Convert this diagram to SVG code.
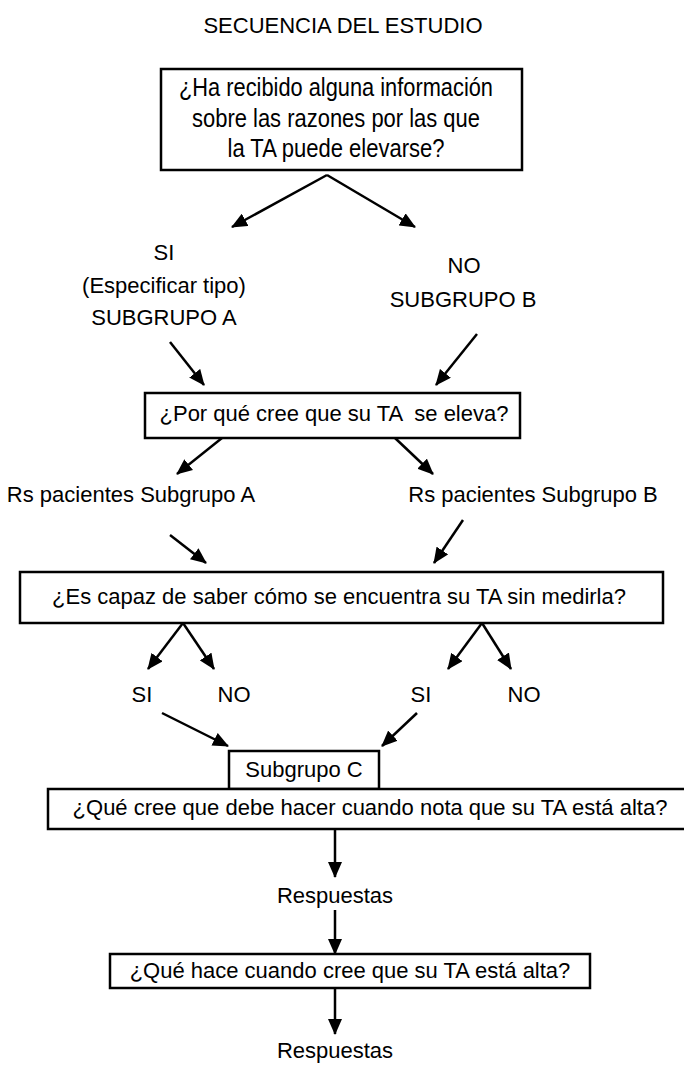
<svg xmlns="http://www.w3.org/2000/svg" width="684" height="1070" viewBox="0 0 684 1070">
  <style>
    .t { font-family: "Liberation Sans", Arial, sans-serif; font-size: 22px; fill: #000; text-anchor: middle; }
    .big { font-size: 25px; }
    .box { fill: #fff; stroke: #000; stroke-width: 2.5; }
    .c { stroke: #000; stroke-width: 2.5; fill: none; marker-end: url(#ah); }
  </style>
  <defs>
    <marker id="ah" markerUnits="userSpaceOnUse" viewBox="0 0 16 14" markerWidth="16" markerHeight="14" refX="15" refY="7" orient="auto">
      <path d="M0,0 L16,7 L0,14 z" fill="#000"/>
    </marker>
  </defs>
  <rect width="684" height="1070" fill="#fff"/>

  <g id="title">
    <text class="t" x="343" y="33">SECUENCIA DEL ESTUDIO</text>
  </g>

  <g id="connectors">
    <line class="c" x1="327" y1="175" x2="232" y2="227"/>
    <line class="c" x1="327" y1="175" x2="415" y2="227"/>
    <line class="c" x1="170" y1="342" x2="204" y2="385"/>
    <line class="c" x1="477" y1="334" x2="436" y2="385"/>
    <line class="c" x1="222" y1="438" x2="177" y2="474"/>
    <line class="c" x1="395" y1="438" x2="433" y2="474"/>
    <line class="c" x1="170" y1="535" x2="206" y2="563"/>
    <line class="c" x1="463" y1="520" x2="434" y2="563"/>
    <line class="c" x1="183" y1="623" x2="148" y2="669"/>
    <line class="c" x1="183" y1="623" x2="214" y2="669"/>
    <line class="c" x1="482" y1="623" x2="448" y2="669"/>
    <line class="c" x1="482" y1="623" x2="511" y2="669"/>
    <line class="c" x1="162" y1="713" x2="228" y2="746"/>
    <line class="c" x1="417" y1="713" x2="382" y2="746"/>
    <line class="c" x1="335" y1="829" x2="335" y2="877"/>
    <line class="c" x1="335" y1="910" x2="335" y2="954"/>
    <line class="c" x1="335" y1="988" x2="335" y2="1034"/>
  </g>

  <g id="q1">
    <rect class="box" x="161" y="69" width="361" height="101"/>
    <text class="t big" x="336" y="96" textLength="314" lengthAdjust="spacingAndGlyphs">¿Ha recibido alguna información</text>
    <text class="t big" x="336" y="127" textLength="288" lengthAdjust="spacingAndGlyphs">sobre las razones por las que</text>
    <text class="t big" x="336" y="157" textLength="217" lengthAdjust="spacingAndGlyphs">la TA puede elevarse?</text>
  </g>

  <g id="siA">
    <text class="t" x="164" y="260">SI</text>
    <text class="t" x="164" y="293">(Especificar tipo)</text>
    <text class="t" x="164" y="325">SUBGRUPO A</text>
  </g>

  <g id="noB">
    <text class="t" x="464" y="273">NO</text>
    <text class="t" x="463" y="307">SUBGRUPO B</text>
  </g>

  <g id="q2">
    <rect class="box" x="145" y="393" width="375" height="45"/>
    <text class="t" x="334" y="421" style="white-space:pre">¿Por qué cree que su TA  se eleva?</text>
  </g>

  <g id="rsA">
    <text class="t" x="131" y="502">Rs pacientes Subgrupo A</text>
  </g>
  <g id="rsB">
    <text class="t" x="533" y="502">Rs pacientes Subgrupo B</text>
  </g>

  <g id="q3">
    <rect class="box" x="20" y="572" width="643" height="51"/>
    <text class="t" x="339" y="604">¿Es capaz de saber cómo se encuentra su TA sin medirla?</text>
  </g>

  <g id="siA2"><text class="t" x="142" y="702">SI</text></g>
  <g id="noA2"><text class="t" x="234" y="702">NO</text></g>
  <g id="siB2"><text class="t" x="421" y="702">SI</text></g>
  <g id="noB2"><text class="t" x="524" y="702">NO</text></g>

  <g id="subC">
    <rect class="box" x="229" y="751" width="150" height="38"/>
    <text class="t" x="304" y="777">Subgrupo C</text>
  </g>

  <g id="q4">
    <rect class="box" x="48" y="789" width="640" height="40"/>
    <text class="t" x="370" y="815">¿Qué cree que debe hacer cuando nota que su TA está alta?</text>
  </g>

  <g id="resp1">
    <text class="t" x="335" y="903">Respuestas</text>
  </g>

  <g id="q5">
    <rect class="box" x="110" y="954" width="480" height="34"/>
    <text class="t" x="350" y="978">¿Qué hace cuando cree que su TA está alta?</text>
  </g>

  <g id="resp2">
    <text class="t" x="335" y="1058">Respuestas</text>
  </g>
</svg>
